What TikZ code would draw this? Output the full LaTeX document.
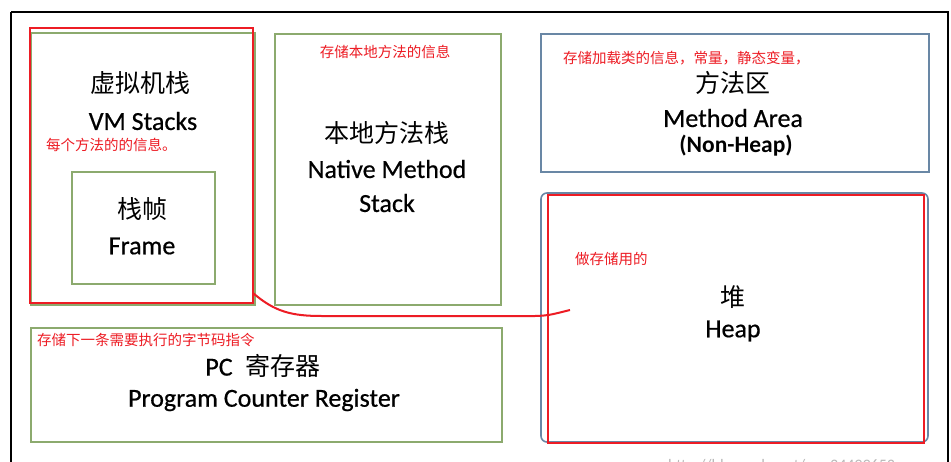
\documentclass[tikz,border=0pt]{standalone}
\usepackage{fontspec}
\setmainfont{Carlito}
\newfontfamily\latb{Carlito}[FakeBold=0.6]
\newfontfamily\cjk{Noto Sans CJK SC}
\definecolor{boxgreen}{RGB}{140,170,110}
\definecolor{boxblue}{RGB}{105,135,165}
\definecolor{annred}{RGB}{237,28,36}
\begin{document}
\begin{tikzpicture}[x=1pt,y=-1pt,
  greenbox/.style={draw=boxgreen,line width=1.6pt},
  bluebox/.style={draw=boxblue,line width=1.6pt},
  redbox/.style={draw=annred,line width=2pt},
  big/.style={font=\fontsize{26}{30}\selectfont\latb,inner sep=0pt,anchor=center},
  bigcjk/.style={font=\fontsize{25}{30}\selectfont\cjk,inner sep=0pt,anchor=center},
  note/.style={font=\fontsize{14.5}{17}\selectfont\cjk,text=annred,inner sep=0pt}]
\useasboundingbox (0,0) rectangle (951,461);
\fill[white] (0,0) rectangle (951,461);
% outer frame
\draw[line width=2pt] (11,12) -- (11,475) (11,12) -- (948,12) -- (948,475);
% watermark
\node[font=\fontsize{16}{20}\selectfont,text=black!28,anchor=west,inner sep=0pt] (wm) at (668,466) {http://blog.csdn.net/qq\_34499653};
% VM stacks
\draw[greenbox] (31,33) rectangle (255,305);
\draw[greenbox] (72,172) rectangle (215,284);
\draw[redbox] (30,28) rectangle (253,303);
\node[bigcjk] (vmcn) at (140,83) {虚拟机栈};
\node[big] (vmen) at (143,121) {VM Stacks};
\node[note,anchor=west] (vmnote) at (46,145) {每个方法的的信息。};
\node[bigcjk] (frcn) at (142,209) {栈帧};
\node[big] (fren) at (142,246) {Frame};
% native method stack
\draw[greenbox] (275,34) rectangle (501,305);
\node[note] (nmnote) at (385,52) {存储本地方法的信息};
\node[bigcjk] (nmcn) at (387,133) {本地方法栈};
\node[big] (nmen1) at (387,169) {Native Method};
\node[big] (nmen2) at (387,203) {Stack};
% method area
\draw[bluebox] (541,34) rectangle (929,172);
\node[note,anchor=west] (manote) at (563,58) {存储加载类的信息，常量，静态变量，};
\node[bigcjk] (macn) at (733,83) {方法区};
\node[big] (maen) at (733,118) {Method Area};
\node[big,font=\fontsize{23.5}{28}\selectfont\bfseries] (manh) at (736,146) {(Non-Heap)};
% heap
\draw[bluebox,rounded corners=6pt] (541,193) rectangle (928,442);
\draw[redbox] (548,195) rectangle (924,443);
\node[note,anchor=west] (hpnote) at (575,259) {做存储用的};
\node[bigcjk] (hpcn) at (733,297) {堆};
\node[big] (hpen) at (733,331) {Heap};
% PC register
\draw[greenbox] (31,328) rectangle (502,442);
\node[note,anchor=west] (pcnote) at (37,340) {存储下一条需要执行的字节码指令};
\node[big] (pccn) at (263,366) {PC\hspace{0.5em}{\cjk\fontsize{25}{30}\selectfont 寄存器}};
\node[big] (pcen) at (264,400) {Program Counter Register};
% red curve
\coordinate (cs) at (253,293);
\coordinate (ce) at (570,310);
\draw[annred,line width=2pt] (cs) .. controls (275,312) and (292,316) .. (322,316) -- (535,316) .. controls (548,315.5) .. (ce);
\end{tikzpicture}
\end{document}
